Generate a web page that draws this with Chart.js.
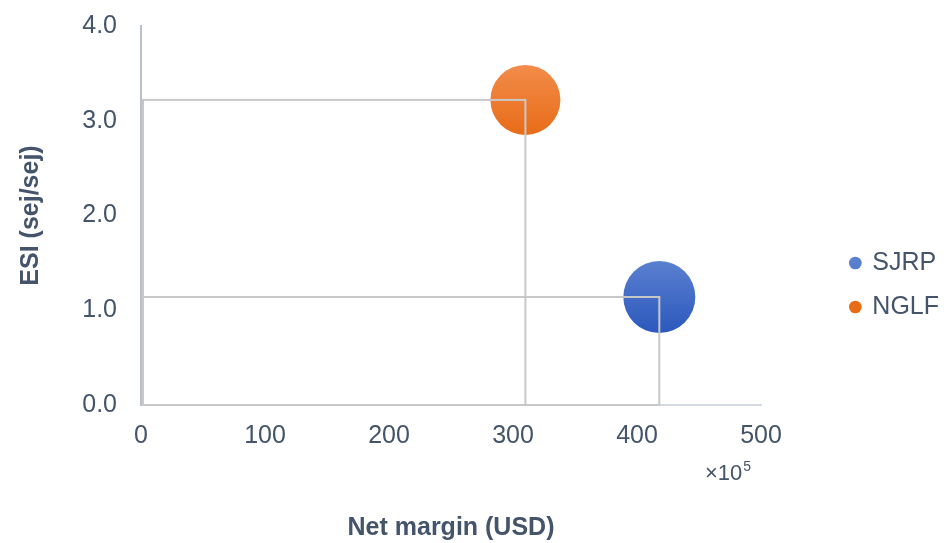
<!DOCTYPE html>
<html>
<head>
<meta charset="utf-8">
<script src="https://cdn.jsdelivr.net/npm/chart.js@4/dist/chart.umd.min.js"></script>
<style>
  html, body { margin: 0; padding: 0; background: #fff; }
  #wrap { width: 949px; height: 543px; position: relative; }
</style>
</head>
<body>
<div id="wrap"><canvas id="esiChart"></canvas></div>
<script>
const systems = ['SJRP', 'NGLF'];
const netMargin = [418, 310];        // x 10^5 USD
const esiValues = [1.14, 3.22];      // sej/sej
const bubbleSizes = [36, 35];
const xTicks = [0, 100, 200, 300, 400, 500];
const yTicks = [0, 1, 2, 3, 4];

const colorsTop = ['#5a80d0', '#f28c4a'];
const colorsBottom = ['#2c58bd', '#e86c18'];
const colorsBase = ['#4472C4', '#ED7D31'];

const textColor = '#44546A';
const fontFamily = "'Liberation Sans', Arial, sans-serif";

const bubbleFill = (i) => (context) => {
  const chart = context.chart;
  const raw = context.raw;
  if (!chart.chartArea || !raw) return colorsBase[i];
  const y = chart.scales.y.getPixelForValue(raw.y);
  if (!isFinite(y)) return colorsBase[i];
  const g = chart.ctx.createLinearGradient(0, y - raw.r, 0, y + raw.r);
  g.addColorStop(0, colorsTop[i]);
  g.addColorStop(1, colorsBottom[i]);
  return g;
};

const datasets = systems.map((name, i) => ({
  label: name,
  data: [{ x: netMargin[i], y: esiValues[i], r: bubbleSizes[i] }],
  backgroundColor: bubbleFill(i),
  borderWidth: 0,
  hoverBorderWidth: 0,
}));

// grey guide lines from each bubble centre back to both axes
const dropLinesPlugin = {
  id: 'dropLines',
  afterDatasetsDraw(chart) {
    const ctx = chart.ctx;
    const x0 = chart.scales.x.getPixelForValue(0) + 2;
    const y0 = chart.scales.y.getPixelForValue(0);
    ctx.save();
    ctx.strokeStyle = '#c8c8c8';
    ctx.lineWidth = 2;
    chart.data.datasets.forEach((ds, di) => {
      chart.getDatasetMeta(di).data.forEach((pt) => {
        ctx.strokeRect(x0, pt.y, pt.x - x0, y0 - pt.y);
      });
    });
    ctx.restore();
  }
};

// push the legend over to the right edge of the canvas
const legendRightPlugin = {
  id: 'legendRight',
  afterLayout(chart) {
    const lg = chart.legend;
    if (!lg) return;
    const dx = chart.width - lg.right;
    lg.left += dx;
    lg.right += dx;
  }
};

// "x10^5" multiplier under the x axis
const multiplierPlugin = {
  id: 'multiplier',
  afterDraw(chart) {
    const ctx = chart.ctx;
    const xScale = chart.scales.x;
    const baseX = xScale.right - 56;
    const baseY = xScale.top + 75;
    ctx.save();
    ctx.fillStyle = textColor;
    ctx.textAlign = 'left';
    ctx.textBaseline = 'alphabetic';
    ctx.font = `22px ${fontFamily}`;
    ctx.fillText('×10', baseX, baseY);
    const w = ctx.measureText('×10').width;
    ctx.font = `14px ${fontFamily}`;
    ctx.fillText('5', baseX + w + 1, baseY - 9);
    ctx.restore();
  }
};

new Chart(document.getElementById('esiChart'), {
  type: 'bubble',
  data: { datasets },
  options: {
    responsive: true,
    maintainAspectRatio: false,
    animation: false,
    layout: { padding: 0, autoPadding: false },
    plugins: {
      legend: {
        position: 'right',
        title: {
          display: true,
          text: '',
          font: { size: 10 },
          padding: { top: 0, bottom: 15 }
        },
        labels: {
          usePointStyle: true,
          pointStyle: 'circle',
          boxWidth: 9,
          boxHeight: 9,
          padding: 19,
          color: textColor,
          font: { family: fontFamily, size: 25 }
        }
      },
      tooltip: { enabled: false }
    },
    scales: {
      x: {
        type: 'linear',
        min: xTicks[0],
        max: xTicks[xTicks.length - 1],
        afterBuildTicks(scale) {
          scale.ticks = xTicks.map(v => ({ value: v }));
        },
        afterFit(scale) {
          scale.height = 138;
          scale.paddingRight = 188;
        },
        grid: { display: false, drawTicks: false },
        border: { color: '#d3dae4', width: 2 },
        ticks: {
          padding: 16,
          color: textColor,
          maxRotation: 0,
          font: { family: fontFamily, size: 25 }
        },
        title: {
          display: true,
          text: 'Net margin (USD)',
          color: textColor,
          padding: { top: 0, bottom: 0 },
          font: { family: fontFamily, size: 25, weight: 'bold' }
        }
      },
      y: {
        type: 'linear',
        min: yTicks[0],
        max: yTicks[yTicks.length - 1],
        afterBuildTicks(scale) {
          scale.ticks = yTicks.map(v => ({ value: v }));
        },
        afterFit(scale) {
          scale.width = 141;
          scale.paddingTop = 26;
        },
        grid: { display: false, drawTicks: false },
        border: { color: '#b7c1ce', width: 2 },
        ticks: {
          padding: 24,
          color: textColor,
          font: { family: fontFamily, size: 25 },
          callback: (value) => Number(value).toFixed(1)
        },
        title: {
          display: true,
          text: 'ESI (sej/sej)',
          color: textColor,
          padding: { top: 16, bottom: 0 },
          font: { family: fontFamily, size: 25, weight: 'bold' }
        }
      }
    }
  },
  plugins: [dropLinesPlugin, legendRightPlugin, multiplierPlugin]
});
</script>
</body>
</html>
